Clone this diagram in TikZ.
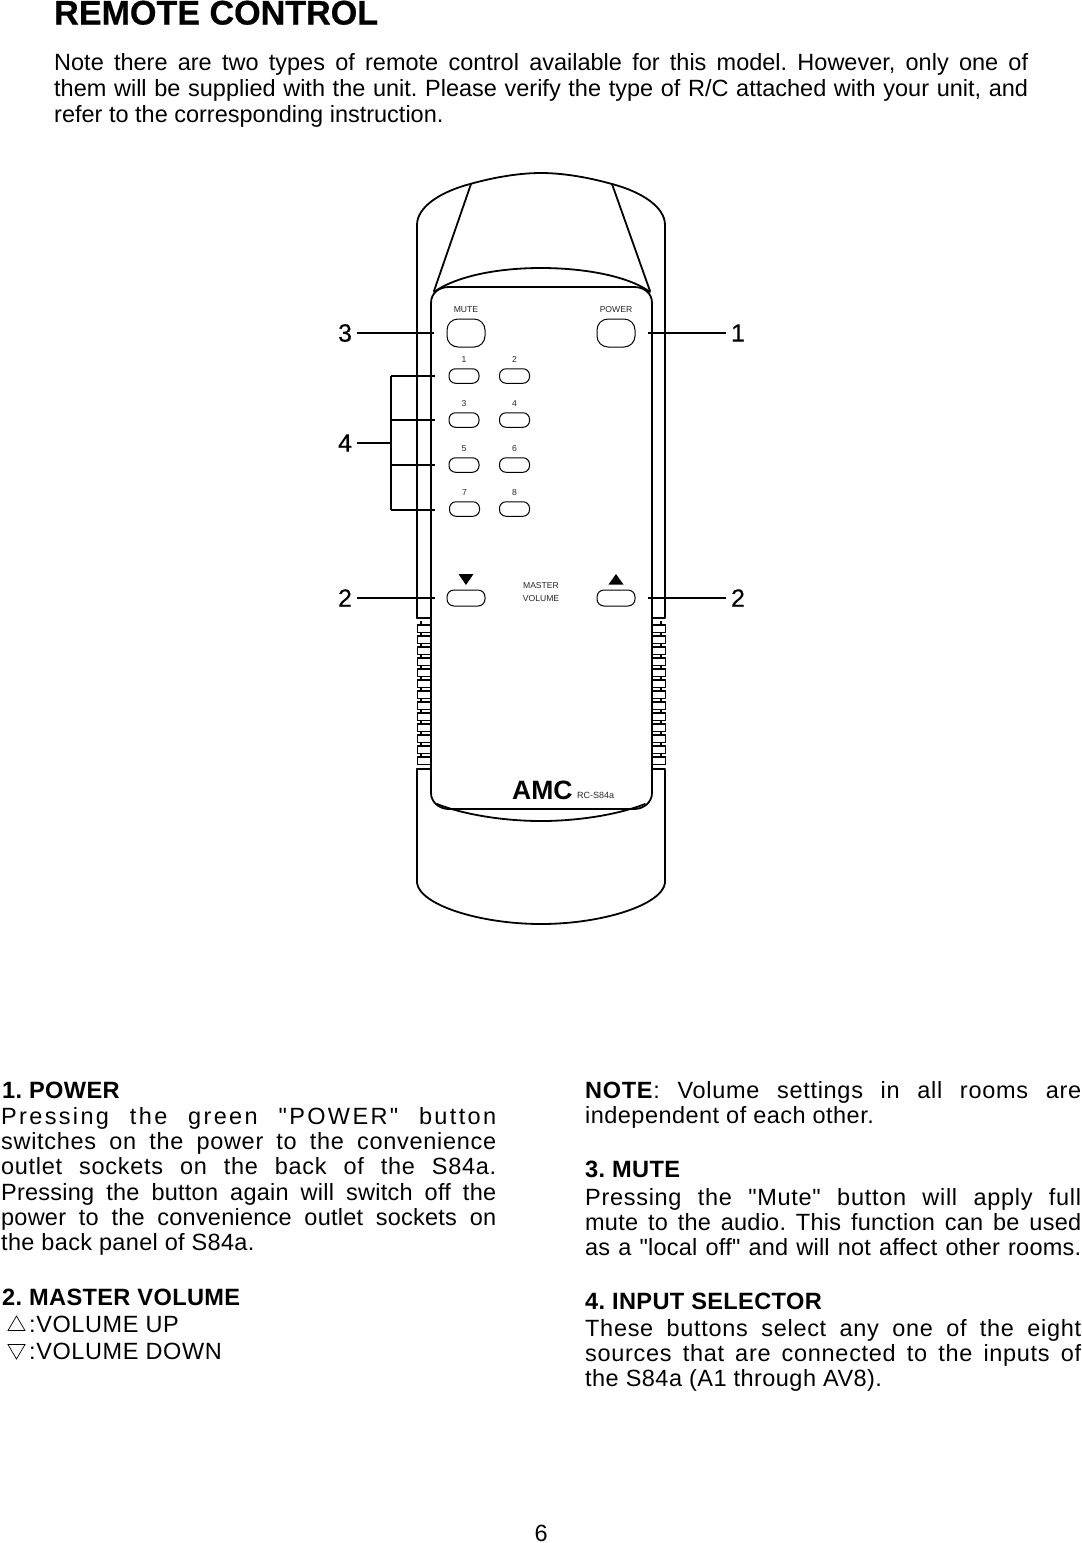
\documentclass[tikz,border=0pt]{standalone}
\usepackage{fontspec}
\setmainfont{Liberation Sans}[Ligatures=TeXOff]
\frenchspacing
\newcommand{\jl}[3]{\hbox to #1pt{\addfontfeature{LetterSpace=#2}#3}}
\newcommand{\pl}[2]{\hbox{\addfontfeature{LetterSpace=#1}#2}}
\tikzset{
  x=1pt,y=-1pt,
  outline/.style={line width=1.8pt,line join=round,line cap=round},
  thinline/.style={line width=1.1pt},
  leader/.style={line width=1.8pt},
  bigbtn/.style={draw,line width=1pt,rectangle,rounded corners=11pt,minimum width=38pt,minimum height=28pt,inner sep=0pt},
  volbtn/.style={draw,line width=1pt,rectangle,rounded corners=7pt,minimum width=38pt,minimum height=16pt,inner sep=0pt},
  smallbtn/.style={draw,line width=1pt,rectangle,rounded corners=6.5pt,minimum width=30pt,minimum height=14.5pt,inner sep=0pt},
  tiny/.style={font=\fontsize{8.6}{10}\selectfont,inner sep=0pt,text=black!85},
  digit/.style={font=\fontsize{25}{26}\selectfont\addfontfeature{FakeBold=0.3},inner sep=5pt},
  para/.style={font=\fontsize{23.5}{25}\selectfont,anchor=base west,inner sep=0pt},
  head/.style={font=\fontsize{23.6}{25}\selectfont\bfseries\addfontfeature{LetterSpace=1.5},anchor=base west,inner sep=0pt},
  rib/.style={draw,fill=white,line width=1.4pt},
}
\begin{document}
\begin{tikzpicture}
\useasboundingbox (0,0) rectangle (1082,1543);
% heading and intro
\node[font=\fontsize{34.1}{35}\selectfont\bfseries\addfontfeature{FakeBold=0.5},anchor=base west,inner sep=0pt] (title) at (54,24.5) {REMOTE CONTROL};
\node[para] (intro) at (54,70.5) {\vtop{\baselineskip=26pt\lineskiplimit=-100pt
  \jl{974}{0}{Note there are two types of remote control available for this model. However, only one of}
  \jl{974}{0}{them will be supplied with the unit. Please verify the type of R/C attached with your unit, and}
  \pl{0}{refer to the corresponding instruction.}}};
% shell
\draw[outline] (417,618) -- (417,225) .. controls (417,207) and (440,192) .. (470,184) .. controls (495,177) and (520,173) .. (541,173) .. controls (562,173) and (587,177) .. (612,184) .. controls (642,192) and (665,207) .. (665,225) -- (665,618) -- (652,618);
\draw[outline] (417,618) -- (431,618);
\draw[outline] (471,184) -- (434,291);
\draw[outline] (612,184) -- (650,291);
\draw[outline] (434,292) .. controls (455,277) and (495,268) .. (541,268) .. controls (587,268) and (630,277) .. (650,292);
% grip ribs
\foreach \i in {0,...,12}{
  \pgfmathsetmacro{\yy}{625+\i*11}
  \draw[line width=1.4pt] (421,\yy-4) -- (421,\yy+1);
  \draw[line width=1.4pt] (661,\yy-4) -- (661,\yy+1);
  \draw[rib] (417.5,\yy) rectangle (431,\yy+7.6);
  \draw[rib] (652,\yy) rectangle (665.5,\yy+7.6);
}
% lower shell
\draw[outline] (417,769) -- (417,883) .. controls (420,905) and (480,924) .. (541,924) .. controls (602,924) and (662,905) .. (665,883) -- (665,769) -- (652,769);
\draw[outline] (417,769) -- (431,769);
\draw[outline] (437,804) .. controls (465,815) and (505,821) .. (541,821) .. controls (577,821) and (617,815) .. (645,804);
% body
\draw[outline,fill=none] (431,303) .. controls (431,293) and (439,287) .. (449,287) -- (634,287) .. controls (644,287) and (652,293) .. (652,303) -- (652,793) .. controls (652,802) and (644,809) .. (634,809) -- (449,809) .. controls (439,809) and (431,802) .. (431,793) -- cycle;
% buttons
\node[bigbtn] (mute) at (466,333) {};
\node[bigbtn] (power) at (616,333) {};
\node[tiny] (muteT) at (466,309.5) {MUTE};
\node[tiny] (powerT) at (616,309.5) {POWER};
\foreach \n/\xx/\yy in {1/464/376,2/514.5/376,3/464/420,4/514.5/420,5/464/465,6/514.5/465,7/464.5/509,8/514.5/509}{
  \node[smallbtn] (s\n) at (\xx,\yy) {};
  \node[tiny] (t\n) at (\xx,\yy-16.5) {\n};
}
\node[volbtn] (vdn) at (466,598) {};
\node[volbtn] (vup) at (616,598) {};
\fill (458.5,574) -- (473.5,574) -- (466,585) -- cycle;
\fill (608.5,584.5) -- (623.5,584.5) -- (616,574) -- cycle;
\node[tiny] (master) at (541,585.5) {MASTER};
\node[tiny] (volume) at (541,598.5) {VOLUME};
\node[font=\fontsize{26.5}{29}\selectfont\bfseries,anchor=base west,inner sep=0pt] (amc) at (512,799) {AMC};
\node[font=\fontsize{9}{10}\selectfont,anchor=base west,inner sep=0pt,text=black!85] (model) at (577,798.5) {RC-S84a};
% callouts
\node[digit] (L3) at (345,333) {3};
\node[digit] (L1) at (738,333) {1};
\node[digit] (L4) at (345,443) {4};
\node[digit] (L2a) at (345,598) {2};
\node[digit] (L2b) at (738,598) {2};
\draw[leader,shorten >=13pt] (L3) -- (mute.west);
\draw[leader,shorten >=12pt] (L1) -- (power.east);
\draw[leader,shorten >=12pt] (L2a) -- (vdn.west);
\draw[leader,shorten >=12pt] (L2b) -- (vup.east);
\coordinate (brM) at (391,443);
\coordinate (brT) at (391,376);
\coordinate (brU) at (391,420);
\coordinate (brL) at (391,465);
\coordinate (brB) at (391,510);
\coordinate (e7) at (435,510);
\draw[leader] (L4) -- (brM);
\draw[thinline,shorten >=14pt] (brT) -- (s1.west);
\draw[thinline,shorten >=14pt] (brU) -- (s3.west);
\draw[line width=1.6pt,shorten >=14pt] (brL) -- (s5.west);
\draw[line width=1.6pt] (brB) -- (e7);
\draw[line width=1.2pt] (brT) -- (brB);
% left column
\node[head] (h1) at (2,1098) {1. POWER};
\node[para] (p1) at (1,1124.5) {\vtop{\baselineskip=25.2pt\lineskiplimit=-100pt
  \jl{495}{10}{Pressing the green "POWER" button}
  \jl{495}{3}{switches on the power to the convenience}
  \jl{495}{3}{outlet sockets on the back of the S84a.}
  \jl{495}{1}{Pressing the button again will switch off the}
  \jl{495}{1}{power to the convenience outlet sockets on}
  \pl{1.5}{the back panel of S84a.}}};
\node[head] (h2) at (2,1305) {2. MASTER VOLUME};
\draw[line width=0.7pt] (8,1330.5) -- (25,1330.5) -- (16.5,1316) -- cycle;
\draw[line width=0.7pt] (8,1344.5) -- (25,1344.5) -- (16.5,1359) -- cycle;
\node[para] (up) at (29,1332.5) {\addfontfeature{LetterSpace=2.5}:VOLUME UP};
\node[para] (down) at (29,1359.5) {\addfontfeature{LetterSpace=2.5}:VOLUME DOWN};
% right column
\node[para] (note) at (585,1098) {\vtop{\baselineskip=25pt\lineskiplimit=-100pt
  \jl{496}{3}{\textbf{NOTE}: Volume settings in all rooms are}
  \pl{2}{independent of each other.}}};
\node[head] (h3) at (585,1177) {3. MUTE};
\node[para] (p3) at (585,1205.5) {\vtop{\baselineskip=25pt\lineskiplimit=-100pt
  \jl{496}{3}{Pressing the "Mute" button will apply full}
  \jl{496}{1}{mute to the audio. This function can be used}
  \jl{496}{1}{as a "local off" and will not affect other rooms.}}};
\node[head] (h4) at (585,1309.5) {4. INPUT SELECTOR};
\node[para] (p4) at (585,1336) {\vtop{\baselineskip=25pt\lineskiplimit=-100pt
  \jl{496}{3}{These buttons select any one of the eight}
  \jl{496}{3}{sources that are connected to the inputs of}
  \pl{2}{the S84a (A1 through AV8).}}};
\node[para] (page) at (534.5,1541) {6};
\end{tikzpicture}
\end{document}
